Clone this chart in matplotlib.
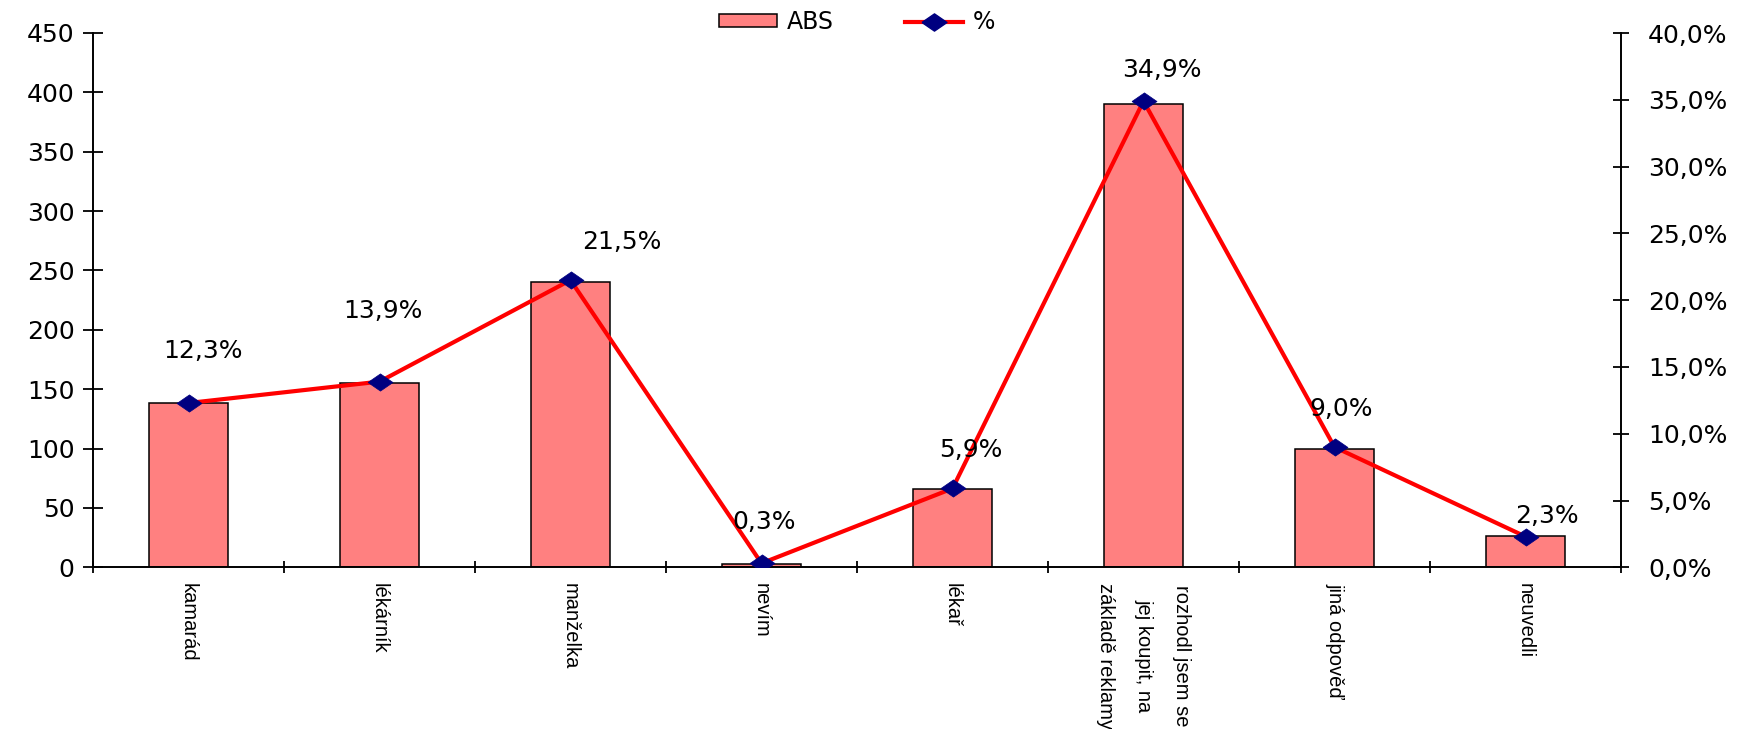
import matplotlib
matplotlib.use("Agg")
import matplotlib.pyplot as plt
from matplotlib.ticker import FixedLocator, FuncFormatter, MultipleLocator
from matplotlib.lines import Line2D
from matplotlib.patches import Patch

# Survey answers: who recommended the product
categories = [
    "kamarád",
    "lékárník",
    "manželka",
    "nevím",
    "lékař",
    "rozhodl jsem se\njej koupit, na\nzákladě reklamy",
    "jiná odpověď",
    "neuvedli",
]
abs_counts = [138, 155, 240, 3, 66, 390, 100, 26]
pct_values = [12.3, 13.9, 21.5, 0.3, 5.9, 34.9, 9.0, 2.3]

# Label offsets (pixels right / up from each point)
label_offsets_px = [(15, 52), (3, 71), (51, 38), (3, 41),
                    (18, 38), (18, 31), (7, 38), (21, 21)]

DPI = 100
W, H = 1746, 729
BAR_COLOR = "#FF8080"
LINE_COLOR = "#FF0000"
MARKER_COLOR = "#000080"
NUM_FONT = ["DejaVu Sans"]
CAT_FONT = ["Liberation Sans", "DejaVu Sans"]
NUM_SIZE = 18

plt.rcParams["font.family"] = NUM_FONT

fig = plt.figure(figsize=(W / DPI, H / DPI), dpi=DPI)
ax = fig.add_axes([93 / W, 1 - 567.3 / H, (1621 - 93) / W, (567.3 - 33) / H])
ax2 = ax.twinx()

n = len(categories)
x = list(range(n))

ax.bar(x, abs_counts, width=0.41, color=BAR_COLOR, edgecolor="black",
       linewidth=1.1, zorder=2, label="ABS")

ax.set_xlim(-0.5, n - 0.5)
ax.set_ylim(0, 450)
ax2.set_ylim(0, 40)

# Wide diamond marker
diamond = [(-1.45, 0), (0, 1), (1.45, 0), (0, -1), (-1.45, 0)]
ax2.plot(x, pct_values, color=LINE_COLOR, linewidth=3.0, marker=diamond,
         markersize=18, markerfacecolor=MARKER_COLOR,
         markeredgecolor=MARKER_COLOR, markeredgewidth=0.5, zorder=3)

for xi, v, (dx, dy) in zip(x, pct_values, label_offsets_px):
    ax2.annotate(f"{v:.1f}%".replace(".", ","), xy=(xi, v),
                 xytext=(dx * 72 / DPI, dy * 72 / DPI),
                 textcoords="offset points", ha="center", va="center",
                 fontsize=NUM_SIZE, color="black", family=NUM_FONT)

# Spines
for a in (ax, ax2):
    a.spines["top"].set_visible(False)
    for s in ("left", "right", "bottom"):
        a.spines[s].set_linewidth(1.4)
        a.spines[s].set_color("black")
ax.spines["right"].set_visible(False)
ax2.spines["left"].set_visible(False)
ax2.spines["bottom"].set_visible(False)

# Left axis
ax.yaxis.set_major_locator(MultipleLocator(50))
ax.tick_params(axis="y", which="major", direction="inout", length=14.4,
               width=1.3, pad=6, labelsize=NUM_SIZE)

# Right axis
ax2.yaxis.set_major_locator(MultipleLocator(5))
ax2.yaxis.set_major_formatter(
    FuncFormatter(lambda v, p: f"{v:.1f}%".replace(".", ",")))
ax2.tick_params(axis="y", which="major", direction="inout", length=11,
                width=1.3, pad=14, labelsize=NUM_SIZE)

# Category axis: boundary ticks + centred labels
ax.xaxis.set_major_locator(FixedLocator([i - 0.5 for i in range(n + 1)]))
ax.xaxis.set_major_formatter(FuncFormatter(lambda v, p: ""))
ax.tick_params(axis="x", which="major", direction="inout", length=8.6,
               width=1.3)
ax.xaxis.set_minor_locator(FixedLocator(x))
ax.set_xticklabels(categories, minor=True)
ax.tick_params(axis="x", which="minor", length=0, pad=11)
for lbl in ax.get_xticklabels(minor=True):
    lbl.set_rotation(270)
    lbl.set_fontfamily(CAT_FONT)
    lbl.set_fontsize(14.5)
    lbl.set_ha("center")
    lbl.set_va("top")
    lbl.set_multialignment("center")
    lbl.set_linespacing(2.25)

# Legend across the top
handles = [
    Patch(facecolor=BAR_COLOR, edgecolor="black", linewidth=1.1, label="ABS"),
    Line2D([], [], color=LINE_COLOR, linewidth=3.0, marker=diamond,
           markersize=18, markerfacecolor=MARKER_COLOR,
           markeredgecolor=MARKER_COLOR, label="%"),
]
fig.legend(handles=handles, loc="center", ncol=2,
           bbox_to_anchor=(857 / W, 1 - 22 / H), frameon=False,
           fontsize=17, handlelength=2.46, handleheight=0.42,
           handletextpad=0.42, columnspacing=3.0, borderpad=0)

fig.savefig("out.png", dpi=DPI)
